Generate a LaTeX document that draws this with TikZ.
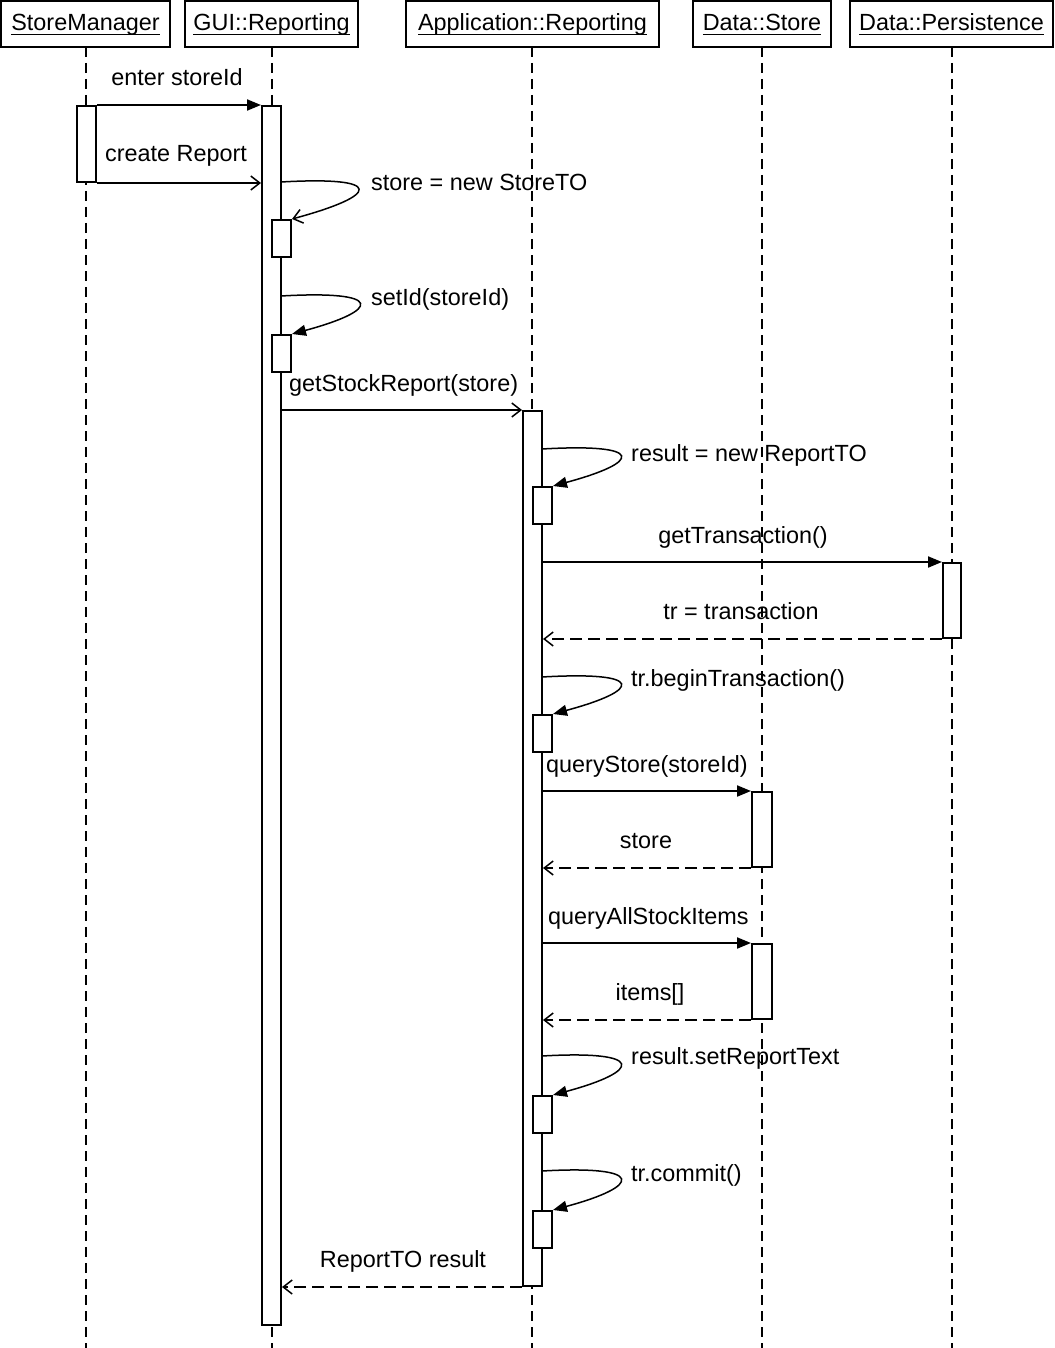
\documentclass[tikz,border=0pt]{standalone}
\usepackage{amsmath}
\usepackage{fontspec}
\setmainfont{Liberation Sans}
\usetikzlibrary{arrows.meta,fit}
\newcommand{\hdrtext}[1]{\underline{\smash[b]{#1}}}
\begin{document}
\begin{tikzpicture}[x=1pt,y=-1pt,
  every node/.style={font=\fontsize{23.4}{28}\selectfont, inner sep=0pt},
  hdr/.style={draw, line width=2pt, minimum height=46pt, fill=white},
  bar/.style={draw, line width=2pt, fill=white, inner sep=0pt},
  life/.style={line width=1.8pt, dash pattern=on 10pt off 6pt},
  msg/.style={line width=2pt, -{Triangle[length=14pt,width=11pt]}},
  amsg/.style={line width=2pt, -{Straight Barb[length=9pt,width=14pt,line width=1.5pt]}},
  ret/.style={line width=2pt, dash pattern=on 12pt off 6pt, -{Straight Barb[length=9pt,width=14pt,line width=1.5pt]}},
  self/.style={line width=1.5pt, -{Triangle[length=14pt,width=11pt]}},
  aself/.style={line width=1.5pt, -{Straight Barb[length=9pt,width=14pt,line width=1.5pt]}},
  lbl/.style={anchor=base},
  lbll/.style={anchor=base west},
  hlbl/.style={anchor=base}]
\useasboundingbox (0,0) rectangle (1054,1348);
% lifelines
\coordinate (l1t) at (86,47);  \coordinate (l1b) at (86,1348);
\coordinate (l2t) at (272,47); \coordinate (l2b) at (272,1348);
\coordinate (l3t) at (532,47); \coordinate (l3b) at (532,1348);
\coordinate (l4t) at (762,47); \coordinate (l4b) at (762,1348);
\coordinate (l5t) at (952,47); \coordinate (l5b) at (952,1348);
\foreach \i in {1,...,5} \draw[life] (l\i t) -- (l\i b);
% activation bars
\node[bar, fit={(77,106)(96,182)}] (sm) {};
\node[bar, fit={(262,106)(281,1325)}] (gui) {};
\node[bar, fit={(272,220)(291,257)}] (gs1) {};
\node[bar, fit={(272,335)(291,372)}] (gs2) {};
\node[bar, fit={(523,411)(542,1286)}] (app) {};
\node[bar, fit={(533,487)(552,524)}] (as1) {};
\node[bar, fit={(533,715)(552,752)}] (as2) {};
\node[bar, fit={(533,1096)(552,1133)}] (as3) {};
\node[bar, fit={(533,1211)(552,1248)}] (as4) {};
\node[bar, fit={(752,792)(772,867)}] (ds1) {};
\node[bar, fit={(752,944)(772,1019)}] (ds2) {};
\node[bar, fit={(943,563)(961,638)}] (dp) {};
% headers
\node[hdr, minimum width=169pt] (hsm) at (85.5,24) {};
\node[hdr, minimum width=173pt] (hgui) at (271.5,24) {};
\node[hdr, minimum width=253pt] (happ) at (532.5,24) {};
\node[hdr, minimum width=138pt] (hds) at (762,24) {};
\node[hdr, minimum width=203pt] (hdp) at (951.5,24) {};
\node[hlbl] (hsmt) at (85.5,31) {\hdrtext{StoreManager}};
\node[hlbl] (hguit) at (271.5,31) {\hdrtext{GUI::Reporting}};
\node[hlbl] (happt) at (532.5,31) {\hdrtext{Application::Reporting}};
\node[hlbl] (hdst) at (762,31) {\hdrtext{Data::Store}};
\node[hlbl] (hdpt) at (951.5,31) {\hdrtext{Data::Persistence}};
% messages
\draw[msg] (sm.north east) -- (gui.north west);
\node[lbl] (t1) at (177,86) {enter storeId};
\draw[amsg] (sm.south east) -- (sm.south east -| gui.west);
\node[lbl] (t2) at (176,162) {create Report};
\coordinate (s1) at (281,182);
\draw[aself] (s1) .. controls +(104,-6) and +(89,-24) .. (gs1.north east);
\node[lbll] (t3) at (371,191) {store = new StoreTO};
\coordinate (s2) at (281,296);
\draw[self] (s2) .. controls +(104,-6) and +(89,-24) .. (gs2.north east);
\node[lbll] (t4) at (371,305) {setId(storeId)};
\draw[amsg] (gui.east |- app.north west) -- (app.north west);
\node[lbll] (t5) at (289,391) {getStockReport(store)};
\coordinate (s3) at (542,449);
\draw[self] (s3) .. controls +(104,-6) and +(89,-24) .. (as1.north east);
\node[lbll] (t6) at (631,461) {result = new ReportTO};
\draw[msg] (app.east |- dp.north west) -- (dp.north west);
\node[lbl] (t7) at (743,543) {getTransaction()};
\draw[ret] (dp.south west) -- (dp.south west -| app.east);
\node[lbl] (t8) at (741,619) {tr = transaction};
\coordinate (s4) at (542,677);
\draw[self] (s4) .. controls +(104,-6) and +(89,-24) .. (as2.north east);
\node[lbll] (t9) at (631,686) {tr.beginTransaction()};
\draw[msg] (app.east |- ds1.north west) -- (ds1.north west);
\node[lbll] (t10) at (546,772) {queryStore(storeId)};
\draw[ret] (ds1.south west) -- (ds1.south west -| app.east);
\node[lbl] (t11) at (646,848) {store};
\draw[msg] (app.east |- ds2.north west) -- (ds2.north west);
\node[lbll] (t12) at (548,924) {queryAllStockItems};
\draw[ret] (ds2.south west) -- (ds2.south west -| app.east);
\node[lbl] (t13) at (650,1000) {items[]};
\coordinate (s5) at (542,1056);
\draw[self] (s5) .. controls +(104,-6) and +(89,-24) .. (as3.north east);
\node[lbll] (t14) at (631,1064) {result.setReportText};
\coordinate (s6) at (542,1171);
\draw[self] (s6) .. controls +(104,-6) and +(89,-24) .. (as4.north east);
\node[lbll] (t15) at (631,1181) {tr.commit()};
\draw[ret] (app.south west) -- (app.south west -| gui.east);
\node[lbl] (t16) at (403,1267) {ReportTO result};
\end{tikzpicture}
\end{document}
